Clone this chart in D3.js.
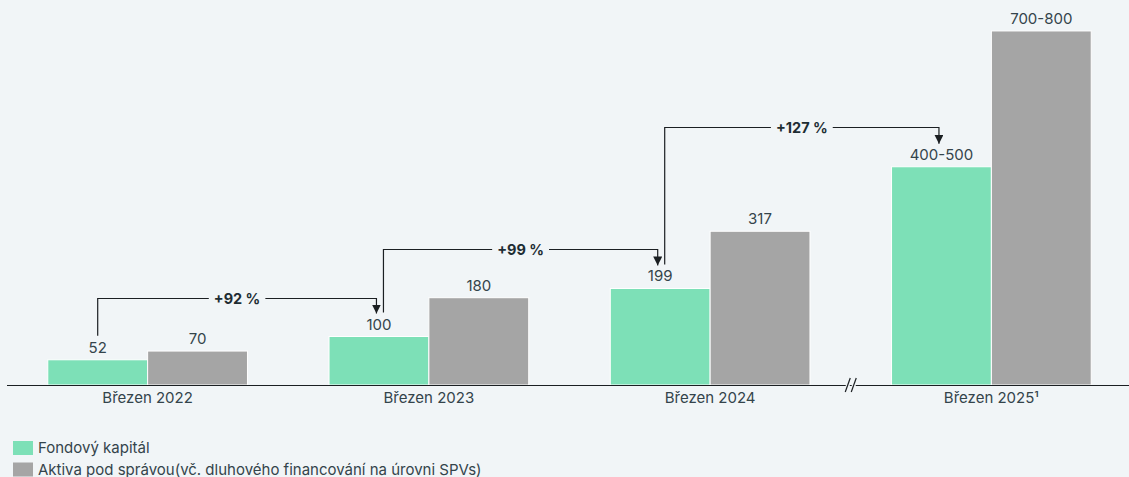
<!DOCTYPE html>
<html>
<head>
<meta charset="utf-8">
<script src="https://cdn.jsdelivr.net/npm/d3@7"></script>
<style>
  html, body { margin: 0; padding: 0; background: #f1f5f7; }
  svg { display: block; font-family: Inter, "Noto Sans", sans-serif; }
</style>
</head>
<body>
<div id="chart"></div>
<script>
  var categories = ["Březen 2022", "Březen 2023", "Březen 2024", "Březen 2025¹"];
  var seriesNames = ["Fondový kapitál", "Aktiva pod správou(vč. dluhového financování na úrovni SPVs)"];
  // bar heights (ranges drawn at their approximate level)
  var equity = [52, 100, 199, 450];
  var aum = [70, 180, 317, 730];
  var equityLabels = ["52", "100", "199", "400-500"];
  var aumLabels = ["70", "180", "317", "700-800"];
  // growth brackets between consecutive equity bars
  var growthLabels = ["+92 %", "+99 %", "+127 %"];
  var growthLevel = [179, 280, 532];

  var W = 1129, H = 477, BASE = 385;
  var GREEN = "#7de0b7", GREY = "#a5a5a5", TEXT = "#34444b", INK = "#1b1f22", BG = "#f1f5f7";

  var svg = d3.select("#chart").append("svg").attr("width", W).attr("height", H);
  svg.append("rect").attr("width", W).attr("height", H).attr("fill", BG);

  var x = d3.scaleBand().domain(categories).range([7, 1132]).paddingInner(0.29).paddingOuter(0.145);
  var xs = d3.scaleBand().domain([0, 1]).range([0, x.bandwidth()]);
  var y = d3.scaleLinear().domain([0, 800]).range([BASE, BASE - 800 * 0.485]);

  var rows = categories.map(function (c, i) {
    return { cat: c, vals: [equity[i], aum[i]], labs: [equityLabels[i], aumLabels[i]] };
  });

  var g = svg.selectAll(".grp").data(rows).enter().append("g")
    .attr("transform", function (d) { return "translate(" + x(d.cat) + ",0)"; });
  g.selectAll("rect").data(function (d) { return d.vals; }).enter().append("rect")
    .attr("x", function (_, j) { return xs(j); }).attr("width", xs.bandwidth())
    .attr("y", function (v) { return y(v); }).attr("height", function (v) { return BASE - y(v); })
    .attr("fill", function (_, j) { return j ? GREY : GREEN; })
    .attr("stroke", "#ffffff").attr("stroke-width", 1);
  g.selectAll(".vlab").data(function (d) { return d.vals.map(function (v, j) { return { v: v, t: d.labs[j] }; }); })
    .enter().append("text").attr("class", "vlab")
    .attr("x", function (_, j) { return xs(j) + xs.bandwidth() / 2; })
    .attr("y", function (d) { return y(d.v) - 7; })
    .attr("text-anchor", "middle").attr("fill", TEXT).style("font-size", "15px")
    .text(function (d) { return d.t; });

  // axis
  svg.append("line").attr("x1", 7).attr("x2", W).attr("y1", BASE + 0.5).attr("y2", BASE + 0.5)
    .attr("stroke", INK).attr("stroke-width", 1.2);
  svg.selectAll(".clab").data(categories).enter().append("text").attr("class", "clab")
    .attr("x", function (c) { return x(c) + x.bandwidth() / 2; }).attr("y", BASE + 18)
    .attr("text-anchor", "middle").attr("fill", TEXT).style("font-size", "15px")
    .text(function (c) { return c; });

  // axis break
  var bx = (x(categories[2]) + x.bandwidth() + x(categories[3])) / 2;
  [-3, 3].forEach(function (o) {
    svg.append("rect").attr("x", bx + o - 2).attr("y", BASE - 2).attr("width", 4).attr("height", 4).attr("fill", BG);
    svg.append("line").attr("x1", bx + o - 2.5).attr("x2", bx + o + 2.5)
      .attr("y1", BASE + 7).attr("y2", BASE - 7).attr("stroke", INK).attr("stroke-width", 1.2);
  });

  // growth brackets
  var defs = svg.append("defs");
  defs.append("marker").attr("id", "ah").attr("viewBox", "0 0 10 10").attr("refX", 10).attr("refY", 5)
    .attr("markerWidth", 9).attr("markerHeight", 9).attr("markerUnits", "userSpaceOnUse").attr("orient", "auto")
    .append("path").attr("d", "M0,0L10,5L0,10Z").attr("fill", INK);
  growthLabels.forEach(function (lab, i) {
    var x0 = x(categories[i]) + xs.bandwidth() / 2 + (i ? 4.5 : 0);
    var x1 = x(categories[i + 1]) + xs.bandwidth() / 2 - 2.5;
    var yl = Math.round(y(growthLevel[i])) + 0.5;
    var y0 = y(equity[i]) - 24, y1 = y(equity[i + 1]) - 23;
    svg.append("path").attr("d", "M" + x0 + "," + y0 + "V" + yl + "H" + x1 + "V" + y1)
      .attr("fill", "none").attr("stroke", INK).attr("stroke-width", 1.2).attr("marker-end", "url(#ah)");
    var t = svg.append("text").attr("x", (x0 + x1) / 2).attr("y", yl + 5)
      .attr("text-anchor", "middle").attr("fill", "#1e2d33").style("font-size", "14.5px").style("font-weight", "700")
      .text(lab);
    var bb = t.node().getBBox();
    svg.insert("rect", function () { return t.node(); })
      .attr("x", bb.x - 5).attr("y", yl - 4).attr("width", bb.width + 10).attr("height", 8).attr("fill", BG);
  });

  // legend
  var leg = svg.selectAll(".leg").data(seriesNames).enter().append("g")
    .attr("transform", function (_, i) { return "translate(13," + (441 + i * 21.5) + ")"; });
  leg.append("rect").attr("width", 20).attr("height", 14).attr("fill", function (_, i) { return i ? GREY : GREEN; });
  leg.append("text").attr("x", 25).attr("y", 12).attr("fill", TEXT).style("font-size", "15px")
    .text(function (d) { return d; });
</script>
</body>
</html>
